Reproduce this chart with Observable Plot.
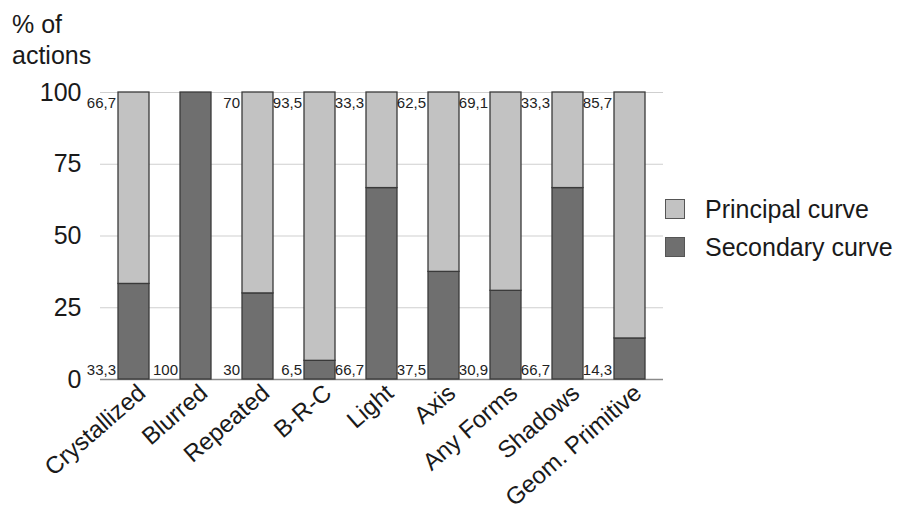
<!DOCTYPE html>
<html>
<head>
<meta charset="utf-8">
<script src="https://cdn.jsdelivr.net/npm/d3@7"></script>
<script src="https://cdn.jsdelivr.net/npm/@observablehq/plot@0.6"></script>
<style>
  html, body { margin: 0; padding: 0; background: #fff; }
  #wrap { position: relative; width: 909px; height: 513px; font-family: "Liberation Sans", Arial, Helvetica, sans-serif; color: #1a1a1a; }
  #title { position: absolute; left: 12px; top: 9px; font-size: 25px; line-height: 31px; }
  #legend { position: absolute; left: 665px; top: 190px; font-size: 25px; }
  .item { display: flex; align-items: center; height: 38px; }
  .sw { width: 20px; height: 20px; box-sizing: border-box; border: 1.5px solid #555; margin-right: 20px; }
</style>
</head>
<body>
<div id="wrap">
  <div id="chart"></div>
  <div id="title">% of<br>actions</div>
  <div id="legend"></div>
</div>
<script>
const categories = ["Crystallized", "Blurred", "Repeated", "B-R-C", "Light", "Axis", "Any Forms", "Shadows", "Geom. Primitive"];
const seriesNames = ["Principal curve", "Secondary curve"];
const principal = [66.7, 0, 70, 93.5, 33.3, 62.5, 69.1, 33.3, 85.7];
const secondary = [33.3, 100, 30, 6.5, 66.7, 37.5, 30.9, 66.7, 14.3];
const yTicks = [0, 25, 50, 75, 100];
const colors = ["#c2c2c2", "#6f6f6f"];

const rows = [];
categories.forEach((c, i) => {
  rows.push({cat: c, series: "Secondary curve", value: secondary[i]});
  rows.push({cat: c, series: "Principal curve", value: principal[i]});
});
const labelRows = categories.map((c, i) => ({cat: c, p: principal[i], s: secondary[i]}));
const fmt = v => String(v).replace(".", ",");

const font = "Liberation Sans, Arial, Helvetica, sans-serif";
const chart = Plot.plot({
  width: 909,
  height: 513,
  marginTop: 92,
  marginBottom: 134,
  marginLeft: 100,
  marginRight: 246,
  style: {fontFamily: font, color: "#1a1a1a", background: "white"},
  x: {domain: categories, paddingInner: 0.5, paddingOuter: 0.25, label: null},
  y: {domain: [0, 100], label: null},
  color: {domain: seriesNames, range: colors},
  marks: [
    Plot.gridY(yTicks, {stroke: "#cfcfcf", strokeOpacity: 1}),
    Plot.ruleY([0], {stroke: "#8a8a8a", strokeWidth: 1.5}),
    Plot.barY(rows.filter(d => d.value > 0), Plot.stackY({
      x: "cat", y: "value", fill: "series", z: "series",
      order: ["Secondary curve", "Principal curve"],
      stroke: "#3a3a3a", strokeWidth: 1.3
    })),
    Plot.text(labelRows.filter(d => d.p > 0), {
      x: "cat", y: () => 100, text: d => fmt(d.p),
      dx: -18, dy: 11, textAnchor: "end", fontSize: 15, fill: "#222"
    }),
    Plot.text(labelRows.filter(d => d.s > 0), {
      x: "cat", y: () => 0, text: d => fmt(d.s),
      dx: -18, dy: -9, textAnchor: "end", fontSize: 15, fill: "#222"
    }),
    Plot.axisY(yTicks, {tickSize: 0, tickPadding: 19, fontSize: 25, label: null}),
    Plot.axisX({tickSize: 0, tickPadding: 10, tickRotate: -41, fontSize: 24, dx: 8, label: null})
  ]
});
document.getElementById("chart").appendChild(chart);

const legend = document.getElementById("legend");
seriesNames.forEach((name, i) => {
  const item = document.createElement("div");
  item.className = "item";
  const sw = document.createElement("span");
  sw.className = "sw";
  sw.style.background = colors[i];
  const t = document.createElement("span");
  t.textContent = name;
  item.appendChild(sw);
  item.appendChild(t);
  legend.appendChild(item);
});
</script>
</body>
</html>
